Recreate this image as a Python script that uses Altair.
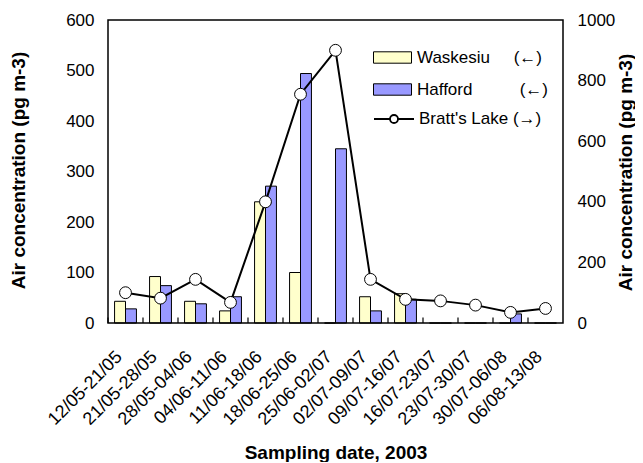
import altair as alt
import pandas as pd

dates = ["12/05-21/05", "21/05-28/05", "28/05-04/06", "04/06-11/06", "11/06-18/06",
         "18/06-25/06", "25/06-02/07", "02/07-09/07", "09/07-16/07", "16/07-23/07",
         "23/07-30/07", "30/07-06/08", "06/08-13/08"]
waskesiu = [43, 92, 43, 24, 240, 100, 0, 52, 58, 0, 0, 0, 0]
hafford = [28, 74, 38, 52, 271, 494, 345, 24, 47, 0, 0, 18, 0]
bratts = [100, 82, 144, 68, 400, 755, 900, 144, 78, 73, 59, 35, 48]

sites = ["Waskesiu", "Hafford"]
site_colors = ["#FFFFCC", "#9999FF"]
site_labels = ["Waskesiu\u00a0\u00a0\u00a0\u00a0\u00a0(\u2190)", "Hafford\u00a0\u00a0\u00a0\u00a0\u00a0\u00a0\u00a0\u00a0\u00a0\u00a0(\u2190)"]
line_label = "Bratt's Lake (\u2192)"

FONT = "Liberation Sans"
W, H = 455, 303

bars_df = pd.DataFrame({
    "date": dates * 2,
    "site": [sites[0]] * len(dates) + [sites[1]] * len(dates),
    "value": waskesiu + hafford,
})
line_df = pd.DataFrame({"date": dates, "value": bratts, "series": [line_label] * len(dates)})

xscale = alt.Scale(domain=dates, paddingInner=0, paddingOuter=0)
xaxis = alt.Axis(labelAngle=315, labelAlign="right", labelBaseline="middle",
                 labelFontSize=18, labelPadding=31, labelOffset=-6, tickSize=0, domain=False,
                 title="Sampling date, 2003", titleFontSize=19, titleFontWeight="bold",
                 titleY=129, titleBaseline="middle", titleX=W / 2)

yleft_scale = alt.Scale(domain=[0, 600], nice=False)
yleft_axis = alt.Axis(values=list(range(0, 601, 100)), tickSize=0, labelPadding=14, grid=False,
                      domain=False, labelFontSize=17, format="d",
                      title="Air concentration (pg m-3)", titleFontSize=19, titleFontWeight="bold",
                      titleAngle=270, titleX=-90, titleY=150, titleBaseline="middle", titleAlign="center")
yright_scale = alt.Scale(domain=[0, 1000], nice=False)
yright_axis = alt.Axis(orient="right", values=list(range(0, 1001, 200)), tickSize=0, labelPadding=14,
                       grid=False, domain=False, labelFontSize=17, format="d",
                       title="Air concentration (pg m-3)", titleFontSize=19, titleFontWeight="bold",
                       titleAngle=270, titleX=62, titleY=152, titleBaseline="middle", titleAlign="center")

label_expr = "datum.label == '{a}' ? '{la}' : '{lb}'".format(a=sites[0], la=site_labels[0], lb=site_labels[1])

bars = alt.Chart(bars_df).mark_bar(stroke="black", strokeWidth=1).encode(
    x=alt.X("date:N", scale=xscale, axis=xaxis, sort=dates),
    xOffset=alt.XOffset("site:N", sort=sites, scale=alt.Scale(domain=sites, paddingOuter=0.6, paddingInner=0)),
    y=alt.Y("value:Q", scale=yleft_scale, axis=yleft_axis),
    fill=alt.Fill("site:N", scale=alt.Scale(domain=sites, range=site_colors),
                  legend=alt.Legend(title=None, orient="none", legendX=265, legendY=18,
                                    symbolType="M-1,-0.3H1V0.3H-1Z", symbolSize=1444,
                                    symbolStrokeColor="black", symbolStrokeWidth=1,
                                    labelFontSize=17, labelFont=FONT, labelColor="black",
                                    labelExpr=label_expr, rowPadding=4, labelOffset=5)),
)

tick_df = pd.DataFrame({"date": dates, "value": [0] * len(dates), "value2": [11] * len(dates)})
ticks = alt.Chart(tick_df).mark_bar(width=1.2, color="black", xOffset=-W / len(dates) / 2).encode(
    x=alt.X("date:N", scale=xscale, axis=xaxis, sort=dates),
    y=alt.Y("value:Q", scale=yleft_scale, axis=yleft_axis),
    y2="value2:Q",
)
frame = alt.Chart(pd.DataFrame({"date": [dates[0]]})).mark_rect(
    fill="white", fillOpacity=0, stroke="black", strokeWidth=1.5).encode(
    x=alt.value(0), x2=alt.value(W), y=alt.value(0), y2=alt.value(H),
)

line = alt.Chart(line_df).mark_line(strokeWidth=2).encode(
    x=alt.X("date:N", scale=xscale, axis=xaxis, sort=dates),
    y=alt.Y("value:Q", scale=yright_scale, axis=yright_axis),
    stroke=alt.Stroke("series:N", scale=alt.Scale(domain=[line_label], range=["black"]),
                      legend=alt.Legend(title=None, orient="none", legendX=265, legendY=78,
                                        symbolType="M-1,0L-0.2,0M0.2,0L1,0M0.2,0A0.2,0.2,0,1,1,-0.2,0A0.2,0.2,0,1,1,0.2,0Z",
                                        symbolSize=1600, symbolStrokeWidth=1.8, symbolFillColor="white",
                                        labelFontSize=17, labelFont=FONT, labelColor="black", labelOffset=4)),
)
points = alt.Chart(line_df).mark_point(shape="circle", filled=True, fill="white", stroke="black",
                                       strokeWidth=1, size=140, opacity=1).encode(
    x=alt.X("date:N", scale=xscale, axis=xaxis, sort=dates),
    y=alt.Y("value:Q", scale=yright_scale, axis=yright_axis),
)

left = alt.layer(bars, ticks, frame)
right = alt.layer(line, points)
chart = alt.layer(left, right).resolve_scale(y="independent").properties(
    width=W, height=H,
    autosize=alt.AutoSizeParams(type="none"),
    padding={"left": 100, "top": 12, "right": 72, "bottom": 139},
).configure_view(strokeWidth=0).configure_axis(
    labelFont=FONT, titleFont=FONT, labelColor="black", titleColor="black",
).configure_legend(labelFont=FONT)

chart.save("out.html", embed_options={"renderer": "svg", "actions": False})
